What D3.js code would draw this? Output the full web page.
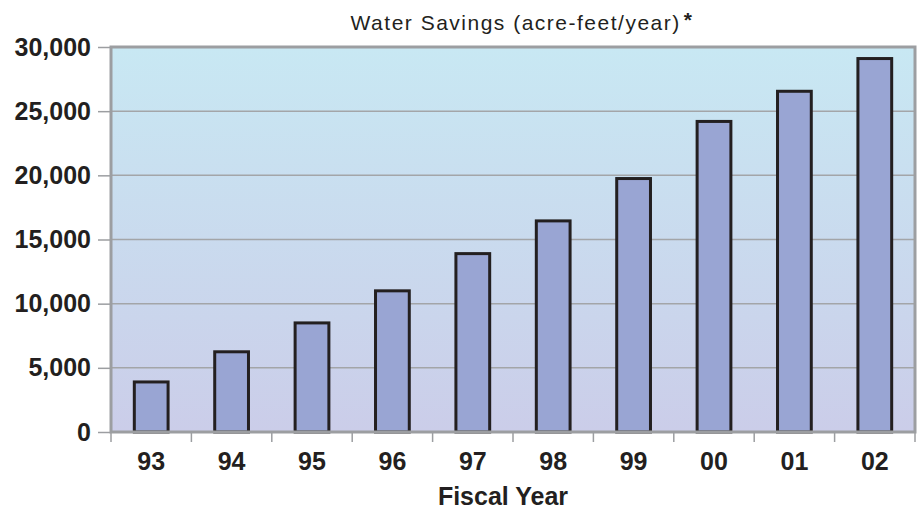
<!DOCTYPE html>
<html>
<head>
<meta charset="utf-8">
<script src="https://cdn.jsdelivr.net/npm/d3@7"></script>
<style>
  body { margin: 0; background: #fff; }
  text { font-family: "Liberation Sans", Arial, sans-serif; }
</style>
</head>
<body>
<div id="chart"></div>
<script>
const years = ["93", "94", "95", "96", "97", "98", "99", "00", "01", "02"];
const savings = [3900, 6250, 8500, 11000, 13900, 16450, 19750, 24200, 26550, 29100];
const yTicks = [0, 5000, 10000, 15000, 20000, 25000, 30000];

const width = 917;
const height = 511;
const margin = { top: 47, right: 2, bottom: 79, left: 111 };
const chartWidth = width - margin.left - margin.right;
const chartHeight = height - margin.top - margin.bottom;

const svg = d3.select("#chart").append("svg")
  .attr("width", width)
  .attr("height", height);

const defs = svg.append("defs");
const grad = defs.append("linearGradient")
  .attr("id", "bg")
  .attr("x1", 0).attr("y1", 0).attr("x2", 0).attr("y2", 1);
grad.append("stop").attr("offset", "0%").attr("stop-color", "#c8e8f3");
grad.append("stop").attr("offset", "100%").attr("stop-color", "#cbcde9");

const sub = svg.append("text")
  .attr("x", 522).attr("y", 30)
  .attr("text-anchor", "middle")
  .attr("font-size", 21)
  .attr("letter-spacing", 1.5)
  .attr("fill", "#231f20");
sub.append("tspan").text("Water Savings (acre-feet/year)");
sub.append("tspan").attr("font-weight", "bold").attr("dy", -3).attr("dx", 3).text("*");

const x = d3.scaleBand()
  .domain(years)
  .range([0, chartWidth])
  .paddingInner(0.58)
  .paddingOuter(0.29);

const y = d3.scaleLinear()
  .domain([0, 30000])
  .range([chartHeight, 0]);

const chart = svg.append("g")
  .attr("transform", `translate(${margin.left},${margin.top})`);

chart.append("rect")
  .attr("width", chartWidth)
  .attr("height", chartHeight)
  .attr("fill", "url(#bg)");

// gridlines
chart.append("g")
  .selectAll("line")
  .data(yTicks.slice(1, -1))
  .enter()
  .append("line")
  .attr("x1", 0).attr("x2", chartWidth)
  .attr("y1", d => y(d)).attr("y2", d => y(d))
  .attr("stroke", "#a3a5a8")
  .attr("stroke-width", 1.5);

// bars
chart.append("g")
  .selectAll("rect")
  .data(savings)
  .enter()
  .append("rect")
  .attr("x", (d, i) => x(years[i]))
  .attr("y", d => y(d))
  .attr("width", x.bandwidth())
  .attr("height", d => chartHeight - y(d))
  .attr("fill", "#99a5d3")
  .attr("stroke", "#231f20")
  .attr("stroke-width", 3);

// border
chart.append("rect")
  .attr("width", chartWidth)
  .attr("height", chartHeight)
  .attr("fill", "none")
  .attr("stroke", "#9c9ea1")
  .attr("stroke-width", 3);

// y axis
const yAxis = chart.append("g")
  .call(d3.axisLeft(y).tickValues(yTicks).tickFormat(d3.format(",")).tickSize(13).tickPadding(7));
yAxis.select(".domain").remove();
yAxis.selectAll("line").attr("stroke", "#9c9ea1").attr("stroke-width", 1.5);
yAxis.selectAll("text")
  .attr("font-family", "Liberation Sans, Arial, sans-serif")
  .attr("font-size", 25).attr("font-weight", "bold")
  .attr("fill", "#231f20");

// x axis: ticks at band boundaries
const step = x.step();
const bounds = d3.range(years.length + 1).map(i => x(years[0]) - x.paddingOuter() * step + i * step);
chart.append("g")
  .selectAll("line")
  .data(bounds)
  .enter()
  .append("line")
  .attr("x1", d => d).attr("x2", d => d)
  .attr("y1", chartHeight).attr("y2", chartHeight + 10)
  .attr("stroke", "#9c9ea1")
  .attr("stroke-width", 1.5);

chart.append("g")
  .selectAll("text")
  .data(years)
  .enter()
  .append("text")
  .attr("x", d => x(d) + x.bandwidth() / 2)
  .attr("y", chartHeight + 38)
  .attr("text-anchor", "middle")
  .attr("font-size", 25).attr("font-weight", "bold")
  .attr("fill", "#231f20")
  .text(d => d);

svg.append("text")
  .attr("x", 503).attr("y", 505)
  .attr("text-anchor", "middle")
  .attr("font-size", 25).attr("font-weight", "bold")
  .attr("fill", "#231f20")
  .text("Fiscal Year");
</script>
</body>
</html>
